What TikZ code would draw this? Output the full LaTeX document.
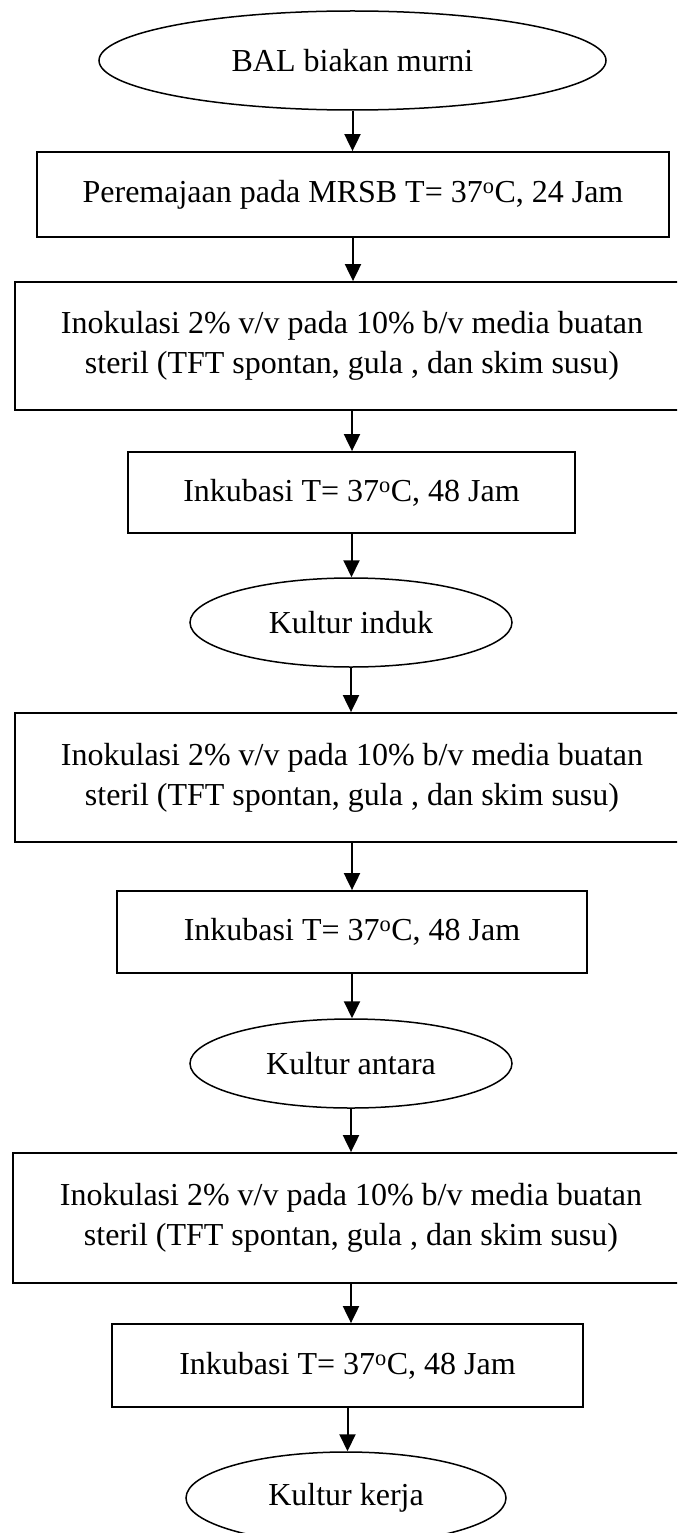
\documentclass[tikz,border=0pt]{standalone}
\usepackage{fontspec}
\setmainfont{Liberation Serif}
\usetikzlibrary{arrows.meta,shapes.geometric}
\begin{document}
\begin{tikzpicture}[x=1pt,y=-1pt,
  boxnode/.style={draw, line width=1.8pt, rectangle, inner sep=0pt, align=center,
    font=\fontsize{32}{40}\selectfont},
  ovalnode/.style={draw, line width=1.5pt, ellipse, inner sep=0pt, align=center,
    font=\fontsize{32}{40}\selectfont},
  flow/.style={-{Triangle[width=16pt,length=17pt]}, line width=2pt}]
\useasboundingbox (0,0) rectangle (677,1533);
\clip (0,0) rectangle (677,1533);
\fill[white] (0,0) rectangle (677,1533);
\node[ovalnode, minimum width=507pt, minimum height=99pt] (e1) at (352.5,60.5) {BAL biakan murni};
\node[boxnode, minimum width=632pt, minimum height=85pt] (b1) at (353,194.5) {Peremajaan pada MRSB T= 37\textsuperscript{o}C, 24 Jam};
\node[boxnode, minimum width=674pt, minimum height=128pt] (b2) at (352,346) {Inokulasi 2\% v/v pada 10\% b/v media buatan\\steril (TFT spontan, gula , dan skim susu)};
\node[boxnode, minimum width=447pt, minimum height=81pt] (b3) at (351.5,492.5) {Inkubasi T= 37\textsuperscript{o}C, 48 Jam};
\node[ovalnode, minimum width=322pt, minimum height=89pt] (e2) at (351,622.5) {Kultur induk};
\node[boxnode, minimum width=674pt, minimum height=129pt] (b4) at (352,777.5) {Inokulasi 2\% v/v pada 10\% b/v media buatan\\steril (TFT spontan, gula , dan skim susu)};
\node[boxnode, minimum width=470pt, minimum height=82pt] (b5) at (352,932) {Inkubasi T= 37\textsuperscript{o}C, 48 Jam};
\node[ovalnode, minimum width=322pt, minimum height=89pt] (e3) at (351,1063.5) {Kultur antara};
\node[boxnode, minimum width=676pt, minimum height=130pt] (b6) at (351,1218) {Inokulasi 2\% v/v pada 10\% b/v media buatan\\steril (TFT spontan, gula , dan skim susu)};
\node[boxnode, minimum width=471pt, minimum height=83pt] (b7) at (347.5,1365.5) {Inkubasi T= 37\textsuperscript{o}C, 48 Jam};
\node[ovalnode, minimum width=320pt, minimum height=92pt] (e4) at (346,1498) {Kultur kerja};
\draw[flow] (e1.south) -- (e1.south |- b1.north);
\draw[flow] (b1.south) -- (b1.south |- b2.north);
\draw[flow] (b2.south) -- (b2.south |- b3.north);
\draw[flow] (b3.south) -- (b3.south |- e2.north);
\draw[flow] (e2.south) -- (e2.south |- b4.north);
\draw[flow] (b4.south) -- (b4.south |- b5.north);
\draw[flow] (b5.south) -- (b5.south |- e3.north);
\draw[flow] (e3.south) -- (e3.south |- b6.north);
\draw[flow] (b6.south) -- (b6.south |- b7.north);
\draw[flow] (b7.south) -- (b7.south |- e4.north);
\end{tikzpicture}
\end{document}
